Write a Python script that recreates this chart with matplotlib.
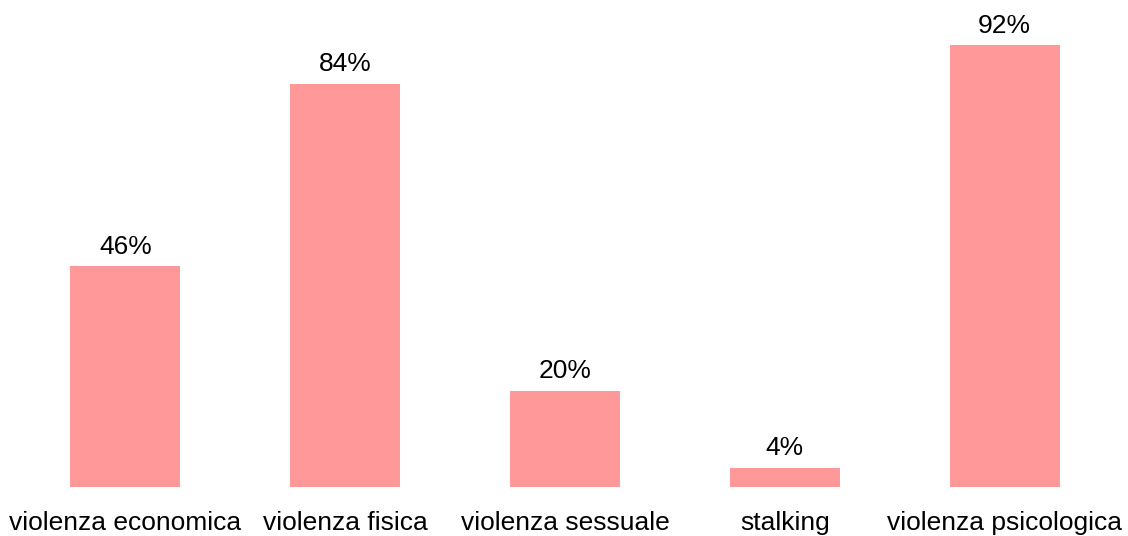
import matplotlib
matplotlib.use("Agg")
import matplotlib.pyplot as plt

categories = ["violenza economica", "violenza fisica", "violenza sessuale", "stalking", "violenza psicologica"]
values = [46, 84, 20, 4, 92]
labels = ["46%", "84%", "20%", "4%", "92%"]

plt.rcParams['font.family'] = ['Liberation Sans', 'DejaVu Sans']

fig = plt.figure(figsize=(11.28, 5.36), dpi=100)
ax = fig.add_axes([15.5/1128, 49/536, 1099/1128, 480/536])
x = range(len(categories))
bars = ax.bar(x, values, width=0.5, color="#ff9999")
for xi, v, lab in zip(x, values, labels):
    ax.annotate(lab, (xi, v), xytext=(0, 5.5), textcoords="offset points",
                ha="center", va="bottom", fontsize=19, color="black")
ax.set_xlim(-0.5, 4.5)
ax.set_ylim(0, 100)
ax.set_xticks(list(x))
ax.set_xticklabels(categories, fontsize=19)
ax.tick_params(axis="x", length=0, pad=17.5)
ax.set_yticks([])
for s in ax.spines.values():
    s.set_visible(False)
fig.savefig("out.png", dpi=100)
